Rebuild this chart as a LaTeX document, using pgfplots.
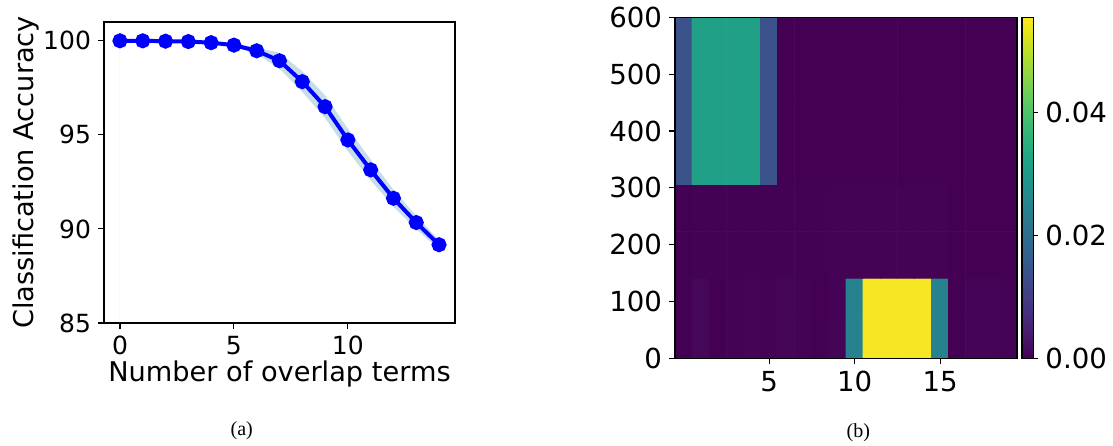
\documentclass[border=0pt]{standalone}
\usepackage{pgfplots}
\pgfplotsset{compat=1.18}
\usepackage{fontspec}
\setmainfont{DejaVu Sans}
\newfontfamily\capfont{Liberation Serif}
\definecolor{bandblue}{HTML}{C7DDEC}

\pgfplotstableread{
x m
0 100.00
1 100.00
2 99.98
3 99.96
4 99.90
5 99.77
6 99.47
7 98.94
8 97.83
9 96.50
10 94.73
11 93.14
12 91.63
13 90.34
14 89.16
}\acc

% band: upper edge left to right, then lower edge right to left
\pgfplotstableread{
x b
0 100.03
1 100.03
2 100.01
3 100.00
4 99.95
5 99.84
6 99.65
7 99.36
8 98.38
9 97.10
10 95.33
11 93.69
12 92.08
13 90.69
14 89.41
14 88.91
13 89.99
12 91.18
11 92.59
10 94.13
9 95.90
8 97.28
7 98.52
6 99.29
5 99.70
4 99.85
3 99.92
2 99.95
1 99.97
0 99.97
}\band

\begin{document}
\begin{tikzpicture}
\useasboundingbox (0,0) rectangle (556.5pt,222.5pt);
\begin{axis}[
  at={(52pt,61pt)}, anchor=south west,
  scale only axis, width=175.5pt, height=150.5pt,
  xmin=-0.7, xmax=14.7, ymin=85, ymax=101,
  xtick={0,5,10}, ytick={85,90,95,100},
  tick align=outside, tick pos=left, major tick length=3pt,
  axis line style={line width=0.55pt},
  every tick/.style={black, line width=0.55pt},
  /pgf/number format/assume math mode=true,
  ticklabel style={font=\fontsize{12.5}{15}\selectfont},
  xlabel={Number of overlap terms}, ylabel={Classification Accuracy},
  label style={font=\fontsize{13.6}{16}\selectfont},
  xlabel style={at={(axis description cs:0.5,-0.195)}, anchor=base},
  ylabel style={at={(axis description cs:-0.2014,0.5)}, anchor=base},
]
\addplot[fill=bandblue, draw=none, forget plot] table[x=x,y=b]{\band} \closedcycle;
\addplot[color=blue, line width=2pt, mark=*, mark size=2.75pt, mark options={fill=blue, draw=blue}] table[x=x,y=m]{\acc};
\end{axis}

\begin{axis}[
  at={(337.5pt,43.35pt)}, anchor=south west,
  scale only axis, width=171pt, height=170.5pt,
  xmin=-0.5, xmax=19.5, ymin=0, ymax=600,
  xtick={5,10,15}, ytick={0,100,200,300,400,500,600},
  tick align=outside, tick pos=left, major tick length=3pt,
  axis line style={line width=0.55pt},
  every tick/.style={black, line width=0.55pt},
  enlargelimits=false, axis on top,
  /pgf/number format/assume math mode=true,
  ticklabel style={font=\fontsize{13.8}{16}\selectfont},
  colormap/viridis, point meta min=0, point meta max=0.0555,
  colorbar,
  colorbar style={
    at={(parent axis.south east)}, anchor=south west, xshift=-6.04pt,
    scale only axis, width=5.7pt, height=170.5pt,
    ytick={0,0.02,0.04}, ytick pos=right, yticklabel pos=right,
    tick align=outside, major tick length=2.5pt,
    axis line style={line width=0.55pt},
    every tick/.style={black, line width=0.55pt},
    scaled y ticks=false,
    /pgf/number format/assume math mode=true,
    yticklabel style={/pgf/number format/.cd, fixed, fixed zerofill, precision=2, /tikz/.cd, font=\fontsize{13.8}{16}\selectfont},
  },
]
% bottom band 0..141
\addplot[matrix plot*, mesh/cols=20, mesh/rows=2, point meta=explicit] table[meta=c]{
x y c
0 35.25 0
1 35.25 0.0008
2 35.25 0
3 35.25 0.0002
4 35.25 0.0004
5 35.25 0.0002
6 35.25 0.0006
7 35.25 0.0002
8 35.25 0
9 35.25 0.0005
10 35.25 0.0245
11 35.25 0.055
12 35.25 0.055
13 35.25 0.055
14 35.25 0.055
15 35.25 0.0245
16 35.25 0
17 35.25 0.0004
18 35.25 0.0004
19 35.25 0.0003
0 105.75 0
1 105.75 0.0008
2 105.75 0
3 105.75 0.0002
4 105.75 0.0004
5 105.75 0.0002
6 105.75 0.0006
7 105.75 0.0002
8 105.75 0
9 105.75 0.0003
10 105.75 0.0245
11 105.75 0.055
12 105.75 0.055
13 105.75 0.055
14 105.75 0.055
15 105.75 0.0245
16 105.75 0
17 105.75 0.0004
18 105.75 0.0004
19 105.75 0.0003
};
% middle band 141..306
\addplot[matrix plot*, mesh/cols=20, mesh/rows=2, point meta=explicit] table[meta=c]{
x y c
0 182.25 0
1 182.25 0.0001
2 182.25 0.0001
3 182.25 0.0001
4 182.25 0.0001
5 182.25 0.0001
6 182.25 0.0001
7 182.25 0.0001
8 182.25 0.0001
9 182.25 0.0002
10 182.25 0.0002
11 182.25 0.0002
12 182.25 0.0002
13 182.25 0.0002
14 182.25 0.0002
15 182.25 0.0002
16 182.25 0
17 182.25 0
18 182.25 0
19 182.25 0
0 264.75 0
1 264.75 0.0001
2 264.75 0.0001
3 264.75 0.0001
4 264.75 0.0001
5 264.75 0.0001
6 264.75 0.0001
7 264.75 0.0001
8 264.75 0.0001
9 264.75 0.0002
10 264.75 0.0002
11 264.75 0.0002
12 264.75 0.0002
13 264.75 0.0002
14 264.75 0.0002
15 264.75 0.0002
16 264.75 0
17 264.75 0
18 264.75 0
19 264.75 0
};
% top band 306..600
\addplot[matrix plot*, mesh/cols=20, mesh/rows=2, point meta=explicit] table[meta=c]{
x y c
0 379.5 0.0139
1 379.5 0.0315
2 379.5 0.0315
3 379.5 0.0315
4 379.5 0.0315
5 379.5 0.0139
6 379.5 0
7 379.5 0
8 379.5 0
9 379.5 0
10 379.5 0
11 379.5 0
12 379.5 0
13 379.5 0
14 379.5 0
15 379.5 0
16 379.5 0
17 379.5 0
18 379.5 0
19 379.5 0
0 526.5 0.0139
1 526.5 0.0315
2 526.5 0.0315
3 526.5 0.0315
4 526.5 0.0315
5 526.5 0.0139
6 526.5 0
7 526.5 0
8 526.5 0
9 526.5 0
10 526.5 0
11 526.5 0
12 526.5 0
13 526.5 0
14 526.5 0
15 526.5 0
16 526.5 0
17 526.5 0
18 526.5 0
19 526.5 0
};
\end{axis}

\node[font=\capfont\fontsize{10}{12}\selectfont] at (120.85pt,7.25pt) {(a)};
\node[font=\capfont\fontsize{10}{12}\selectfont] at (429.15pt,6pt) {(b)};
\end{tikzpicture}
\end{document}
